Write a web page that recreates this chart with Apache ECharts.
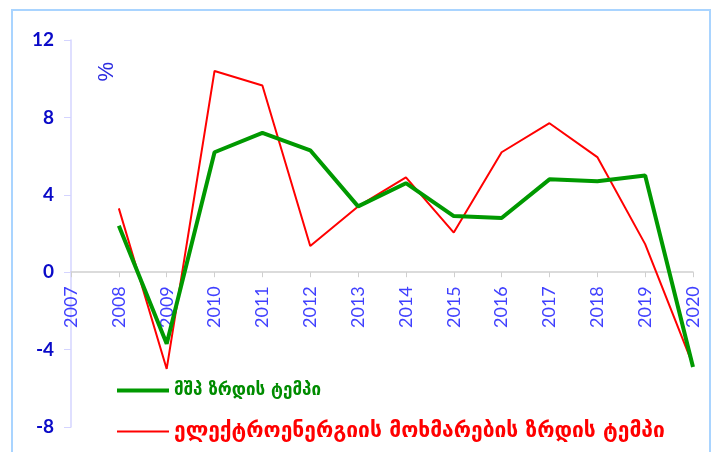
<!DOCTYPE html>
<html>
<head>
<meta charset="utf-8">
<script src="https://cdn.jsdelivr.net/npm/echarts@6/dist/echarts.min.js"></script>
<style>
  body { margin: 0; background: #fff; }
  #frame { position: absolute; left: 11px; top: 9px; width: 696px; height: 450px; border: 2px solid #a9d4ff; }
  #chart { position: absolute; left: 0; top: 0; width: 715px; height: 452px; }
</style>
</head>
<body>
<div id="frame"></div>
<div id="chart"></div>
<script>
  // years on the x axis
  var years = ['2007', '2008', '2009', '2010', '2011', '2012', '2013', '2014', '2015', '2016', '2017', '2018', '2019', '2020']
  // GDP growth, %
  var gdpGrowth = [null, 2.4, -3.7, 6.2, 7.2, 6.3, 3.4, 4.6, 2.9, 2.8, 4.8, 4.7, 5.0, -4.9]
  // electricity consumption growth, %
  var powerGrowth = [null, 3.3, -5.0, 10.4, 9.65, 1.35, 3.4, 4.9, 2.05, 6.2, 7.7, 5.95, 1.45, -4.8]
  var yTicks = [-8, -4, 0, 4, 8, 12]

  var gdpName = 'მშპ ზრდის ტემპი'
  var powerName = 'ელექტროენერგიის მოხმარების ზრდის ტემპი'

  var gridTop = 40
  var gridBottom = 25
  var chartH = 452
  // x axis sits on the zero line, move it up there with its labels
  var plotH = chartH - gridTop - gridBottom
  var zeroOffset = plotH * (0 - yTicks[0]) / (yTicks[yTicks.length - 1] - yTicks[0])

  var chart = echarts.init(document.getElementById('chart'))
  chart.setOption({
    animation: false,
    grid: { left: 71, right: 22, top: gridTop, bottom: gridBottom, outerBoundsMode: 'none', containLabel: false },
    xAxis: {
      type: 'category',
      data: years,
      boundaryGap: false,
      offset: -zeroOffset,
      axisLine: { onZero: false, lineStyle: { color: '#cfcfcf', width: 1.5 } },
      axisTick: { show: true, length: 5, lineStyle: { color: '#cfcfcf' } },
      axisLabel: {
        rotate: 90,
        interval: 0,
        color: '#4040ff',
        fontFamily: 'Lato',
        fontSize: 18,
        margin: 14
      },
      splitLine: { show: false }
    },
    yAxis: {
      type: 'value',
      min: yTicks[0],
      max: yTicks[yTicks.length - 1],
      interval: 4,
      axisLine: { show: true, lineStyle: { color: '#d4d4ff', width: 1.5 } },
      axisTick: { show: true, length: 7, lineStyle: { color: '#d4d4ff' } },
      axisLabel: {
        color: '#0a0ac8',
        fontFamily: 'Lato',
        fontWeight: 'bold',
        fontSize: 19,
        margin: 17
      },
      splitLine: { show: false }
    },
    legend: [{
      data: [gdpName],
      orient: 'vertical',
      left: 112,
      top: 377,
      icon: 'rect',
      itemWidth: 52,
      itemHeight: 4,
      textStyle: { color: '#008c00', fontFamily: 'DejaVu Sans', fontWeight: 'bold', fontSize: 17 }
    }, {
      data: [powerName],
      orient: 'vertical',
      left: 112,
      top: 416,
      icon: 'rect',
      itemWidth: 52,
      itemHeight: 2,
      textStyle: { color: '#ff0000', fontFamily: 'DejaVu Sans', fontWeight: 'bold', fontSize: 21 }
    }],
    graphic: [{
      type: 'text',
      left: 96,
      top: 62,
      rotation: Math.PI / 2,
      style: { text: '%', fill: '#2a2ae0', font: '22px "Liberation Sans"' }
    }],
    series: [{
      name: gdpName,
      type: 'line',
      data: gdpGrowth,
      showSymbol: false,
      color: '#009900',
      lineStyle: { width: 4, color: '#009900' },
      z: 3
    }, {
      name: powerName,
      type: 'line',
      data: powerGrowth,
      showSymbol: false,
      color: '#ff0000',
      lineStyle: { width: 2, color: '#ff0000' },
      z: 2
    }]
  })
</script>
</body>
</html>
